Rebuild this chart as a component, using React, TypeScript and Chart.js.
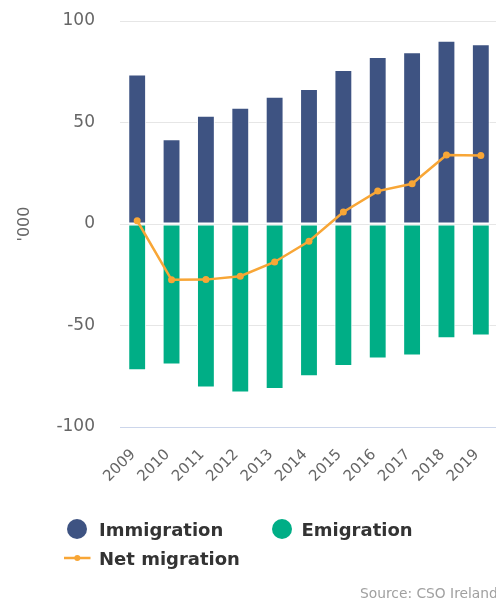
import React, { useEffect, useRef } from 'react';
import { Chart, registerables } from 'chart.js';

Chart.register(...registerables);

const years = ['2009', '2010', '2011', '2012', '2013', '2014', '2015', '2016', '2017', '2018', '2019'];
const immigration = [73.7, 41.8, 53.3, 57.3, 62.7, 66.5, 75.9, 82.3, 84.6, 90.3, 88.6];
const emigration = [-72.0, -69.2, -80.6, -83.0, -81.3, -75.0, -70.0, -66.2, -64.8, -56.3, -54.9];
const netMigration = [1.6, -27.5, -27.4, -25.7, -18.7, -8.5, 5.9, 16.2, 19.8, 34.0, 33.7];
const yMin = -100;
const yMax = 100;
const yStep = 50;
const yTitle = "'000";
const sourceText = 'Source: CSO Ireland';

const NAVY = '#3e5382';
const TEAL = '#00ae86';
const ORANGE = '#f8a636';
const FONT = 'DejaVu Sans';

const customLegend = {
  id: 'customLegend',
  afterDraw(chart: any) {
    const ctx = chart.ctx as CanvasRenderingContext2D;
    const ds = chart.data.datasets;
    const find = (t: string) => ds.find((d: any) => d.label === t);
    ctx.save();
    ctx.textAlign = 'left';
    ctx.textBaseline = 'alphabetic';
    ctx.font = `bold 18px "${FONT}"`;
    ctx.fillStyle = '#333333';

    const row1 = 529;
    const row2 = 558;
    const imm = find('Immigration');
    ctx.beginPath();
    ctx.arc(77, row1, 10, 0, Math.PI * 2);
    ctx.fillStyle = imm.backgroundColor;
    ctx.fill();
    ctx.fillStyle = '#333333';
    ctx.fillText(imm.label, 99, row1 + 6.5);

    const emi = find('Emigration');
    ctx.beginPath();
    ctx.arc(282, row1, 10, 0, Math.PI * 2);
    ctx.fillStyle = emi.backgroundColor;
    ctx.fill();
    ctx.fillStyle = '#333333';
    ctx.fillText(emi.label, 301.5, row1 + 6.5);

    const net = find('Net migration');
    ctx.strokeStyle = net.borderColor;
    ctx.lineWidth = 2.5;
    ctx.beginPath();
    ctx.moveTo(64, row2);
    ctx.lineTo(90.5, row2);
    ctx.stroke();
    ctx.beginPath();
    ctx.arc(77.3, row2, 3, 0, Math.PI * 2);
    ctx.fillStyle = net.borderColor;
    ctx.fill();
    ctx.fillStyle = '#333333';
    ctx.fillText(net.label, 99, row2 + 6.5);

    ctx.font = `13.8px "${FONT}"`;
    ctx.fillStyle = '#a0a0a0';
    ctx.fillText(sourceText, 360, 598);
    ctx.restore();
  },
};

export default function App() {
  const ref = useRef<HTMLCanvasElement | null>(null);

  useEffect(() => {
    if (!ref.current) return;
    const chart = new Chart(ref.current, {
      type: 'bar',
      data: {
        labels: years,
        datasets: [
          {
            type: 'line',
            label: 'Net migration',
            data: netMigration,
            borderColor: ORANGE,
            backgroundColor: ORANGE,
            borderWidth: 2.5,
            pointRadius: 3.5,
            pointBackgroundColor: ORANGE,
            pointBorderWidth: 0,
            tension: 0,
            stack: 'net',
            order: 0,
          } as any,
          {
            type: 'bar',
            label: 'Immigration',
            data: immigration,
            backgroundColor: NAVY,
            borderColor: '#ffffff',
            borderWidth: 1,
            borderSkipped: false,
            barPercentage: 0.52,
            categoryPercentage: 1,
            stack: 'mig',
            order: 1,
          },
          {
            type: 'bar',
            label: 'Emigration',
            data: emigration,
            backgroundColor: TEAL,
            borderColor: '#ffffff',
            borderWidth: 1,
            borderSkipped: false,
            barPercentage: 0.52,
            categoryPercentage: 1,
            stack: 'mig',
            order: 1,
          },
        ],
      },
      options: {
        animation: false,
        responsive: false,
        devicePixelRatio: 1,
        layout: { padding: { top: 21, bottom: 105, left: 0, right: 0 } },
        plugins: {
          legend: { display: false },
          tooltip: { enabled: false },
        },
        scales: {
          x: {
            stacked: true,
            grid: { display: false, drawTicks: false },
            border: { display: true, color: '#ccd6eb', width: 1 },
            ticks: {
              color: '#666666',
              font: { family: FONT, size: 15 },
              minRotation: 45,
              maxRotation: 45,
              autoSkip: false,
              padding: 19,
              labelOffset: -4,
            },
            afterFit: (s: any) => {
              s.height = 70;
              s.paddingLeft = 0;
              s.paddingRight = 0;
            },
          },
          y: {
            stacked: true,
            min: yMin,
            max: yMax,
            ticks: {
              stepSize: yStep,
              color: '#666666',
              font: { family: FONT, size: 17 },
              padding: 25,
            },
            grid: {
              color: (c: any) => (c.tick && c.tick.value === yMin ? '#ccd6eb' : '#e6e6e6'),
              drawTicks: false,
              lineWidth: 1,
            },
            border: { display: false },
            title: {
              display: true,
              text: yTitle,
              color: '#666666',
              font: { family: FONT, size: 16 },
              padding: { top: 15, bottom: 0 },
            },
            afterFit: (s: any) => {
              s.width = 120;
              s.paddingTop = 0;
              s.paddingBottom = 0;
            },
          },
        },
      },
      plugins: [customLegend],
    });
    return () => chart.destroy();
  }, []);

  return (
    <div style={{ position: 'fixed', left: 0, top: 0, width: 496, height: 602, overflow: 'hidden', background: '#ffffff' }}>
      <canvas ref={ref} width={502} height={602} style={{ display: 'block' }} />
    </div>
  );
}
